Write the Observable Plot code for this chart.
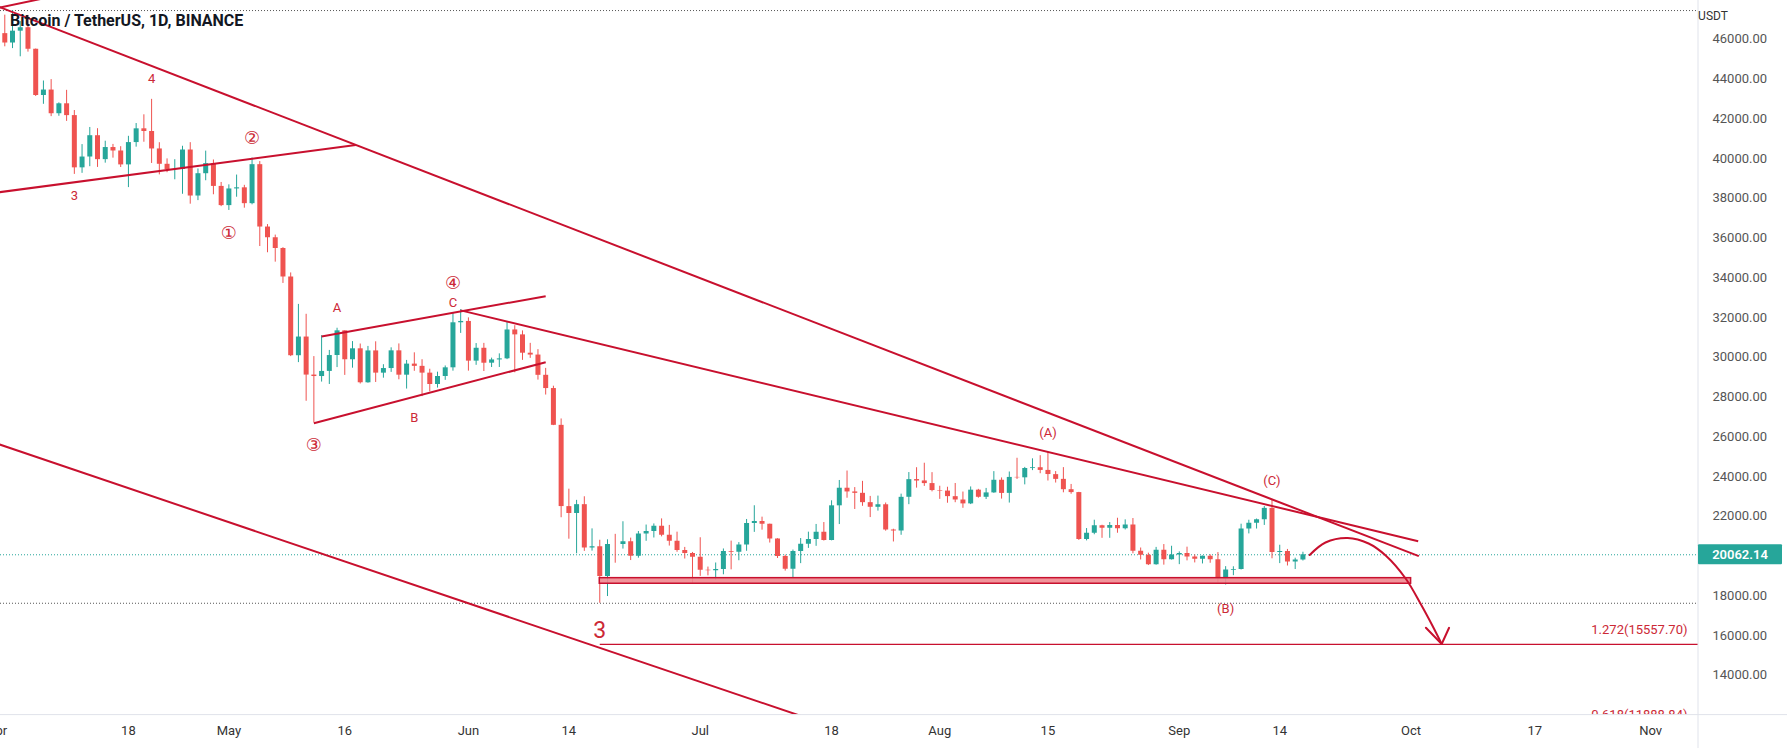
<!DOCTYPE html>
<html>
<head>
<meta charset="utf-8">
<script src="https://cdn.jsdelivr.net/npm/d3@7"></script>
<script src="https://cdn.jsdelivr.net/npm/@observablehq/plot@0.6"></script>
<style>
  html, body { margin: 0; padding: 0; background: #fff; }
  #wrap { position: relative; width: 1787px; height: 748px; overflow: hidden; }
  #title { position: absolute; left: 10px; top: 13px; font: 700 16px Roboto, "Open Sans", sans-serif; line-height: 1; color: #131722; pointer-events: none; white-space: nowrap; }
</style>
</head>
<body>
<div id="wrap"><div id="title">Bitcoin / TetherUS, 1D, BINANCE</div></div>
<script>
// ---------- daily candles, 2022-04-01 .. 2022-09-17 ----------
const firstDay = "2022-04-01";
const lastDay = "2022-09-17";
const open = [
  45510,46283,45811,46407,46580,45497,43170,43444,42253,42753,42159,39530,40075,41147,39943,40552,40378,39679,40802,41494,41359,40481,39709,39441,39450,40427,38112,39235,39742,38596,
  37630,38469,38525,37728,39690,36552,36013,35472,34038,30077,31017,29104,29030,29287,30087,31329,29874,30425,28715,30320,29200,29432,30323,29098,29655,29542,29201,28629,29031,29469,31734,
  31801,29805,30452,29701,29865,29920,31374,31126,30204,30110,29092,28425,26574,22485,22136,22583,20400,20468,18970,20575,20573,20719,19987,21111,21238,21492,21039,20742,20281,20123,
  19942,19279,19252,19316,20232,20191,20549,21637,21731,21593,20861,19970,19331,20225,20588,20830,21195,20785,22525,23410,23223,23154,22684,22451,22578,21310,21254,22954,23845,23777,23644,
  23296,23266,22985,22817,22622,23313,22954,23175,23811,23152,23955,23934,24401,24442,24306,24094,23856,23336,23191,20834,21141,21516,21400,21529,21368,21559,20240,20037,19555,20285,19813,
  20050,20127,19953,19832,19988,19812,18837,19289,19320,21361,21650,21826,22396,20173,20227,19701,19803
];
const high = [
  46720,47213,47444,46890,47200,45507,43900,43970,42800,43430,42414,40700,41561,41500,40870,40709,40595,41117,41760,42199,42976,40795,39980,39940,40616,40797,39474,40372,39925,38795,
  38675,39167,38650,40023,39845,36675,36146,35514,34243,32659,32162,30033,31083,30343,31460,31329,30788,30666,30545,30777,29625,30475,30670,29840,30223,29875,29397,29250,29562,32222,32399,
  31982,30689,30699,29956,30170,31765,31589,31326,30700,30383,29440,28544,26895,23362,22800,22980,21365,20792,20815,21090,21723,20900,21233,21558,21614,21868,21540,21200,20432,20179,
  20918,19443,19648,20354,20750,20675,21838,22528,21955,21603,20869,20048,20300,20879,21200,21588,21684,22777,23800,24276,23442,23756,22998,23014,22666,21347,23112,24199,24442,24668,24194,
  23510,23460,23648,23218,23475,23354,23400,24245,23928,24226,24918,24458,24890,25047,25212,24247,24446,23600,23203,21382,21800,21548,21684,21900,21819,21886,20402,20143,20433,20576,20490,
  20208,20445,20056,20000,20059,20173,19464,19457,21600,21800,21860,22488,22799,20541,20330,19890,20189
];
const low = [
  44200,45620,45530,45118,45353,43121,42727,42107,42125,41868,39200,39254,39588,39551,39766,40019,39546,38536,40571,40819,39751,39177,39285,38929,38200,37702,37881,38881,38175,37578,
  37386,38052,37500,37670,35571,35258,34785,33714,30033,29730,27785,26700,28751,28630,29480,29087,29450,28654,28693,28731,28947,29239,28866,28400,29294,28019,28261,28450,28838,29300,31200,
  29301,29594,29282,29483,29485,29880,29219,29844,29944,28850,28099,26560,21925,20846,20111,20233,20246,17622,17960,19637,20348,19771,19890,20740,20906,20964,20500,20188,19848,18626,
  18975,19001,18782,19055,19304,19762,20237,21189,21300,20652,19875,19240,18910,19616,20382,20486,20752,20763,21582,22906,22341,22500,21934,22258,21250,20706,21043,22582,23414,23502,23227,
  22850,22655,22681,22400,22587,22909,22841,23154,22864,22664,23853,23579,24296,24140,23773,23671,23180,23108,20783,20761,21069,20890,20890,21145,21310,20112,19800,19520,19537,19540,19797,
  19565,19755,19652,19600,19635,18650,18540,19010,19297,21111,21357,21538,19860,19618,19497,19320,19748
];
const close = [
  46283,45811,46407,46580,45497,43170,43444,42252,42753,42158,39530,40074,41147,39942,40552,40378,39678,40801,41493,41358,40480,39709,39441,39450,40427,38112,39235,39742,38596,37630,
  38468,38525,37728,39690,36552,36013,35472,34038,30077,31017,29103,29030,29287,30086,31329,29874,30425,28716,30319,29201,29432,30323,29098,29655,29542,29201,28629,29031,29468,31734,31801,
  29805,30452,29700,29865,29919,31373,31126,30204,30110,29091,28425,26575,22487,22136,22583,20401,20468,18970,20574,20573,20720,19987,21110,21238,21492,21039,20742,20281,20123,19943,
  19279,19252,19316,20232,20191,20549,21637,21731,21593,20861,19970,19331,20224,20588,20830,21196,20785,22525,23410,23223,23153,22684,22451,22579,21310,21254,22952,23842,23773,23643,23293,
  23269,22988,22818,22622,23312,22954,23175,23810,23149,23954,23934,24403,24441,24306,24099,23855,23336,23191,20834,21140,21516,21400,21529,21368,21559,20241,20037,19555,20285,19812,20050,
  20131,19953,19832,19986,19812,18838,19290,19320,21361,21649,21826,22396,20174,20227,19702,19803,20062.14
];

// ---------- view window & axes ----------
const xDomain = ["2022-04-01T10:40Z", "2022-11-07T04:40Z"];
const yDomain = [11995, 47950];
const xTickDates = ["2022-04-01","2022-04-18","2022-05-01","2022-05-16","2022-06-01","2022-06-14","2022-07-01","2022-07-18","2022-08-01","2022-08-15","2022-09-01","2022-09-14","2022-10-01","2022-10-17","2022-11-01"];
const xTickLabels = ["Apr","18","May","16","Jun","14","Jul","18","Aug","15","Sep","14","Oct","17","Nov"];
const yTicks = [14000,16000,18000,22000,24000,26000,28000,30000,32000,34000,36000,38000,40000,42000,44000,46000];
const currency = "USDT";
const lastPrice = 20062.14;
const rangeHighLow = [47444, 17622];

// ---------- drawings ----------
const lineStartDate  = ["2022-03-30","2022-03-30","2022-03-30","2022-03-30","2022-05-31","2022-05-13","2022-05-12"];
const lineStartPrice = [47397, 47967, 38186, 25916, 32360, 31045, 26684];
const lineEndDate    = ["2022-04-10","2022-10-02","2022-05-17T10:00Z","2022-07-20","2022-10-01T22:00Z","2022-06-11","2022-06-11"];
const lineEndPrice   = [48304, 19993, 40680, 11166, 20746, 33073, 29752];

const zoneStart = "2022-06-18", zoneEnd = "2022-10-01";
const zoneLow = 18604, zoneHigh = 18885;

const fibRatio = ["1.272", "0.618"];
const fibPrice = [15557.70, 11888.84];
const fibStart = "2022-06-18";

const arrowDate  = ["2022-09-17T21:00Z","2022-09-19T22:00Z","2022-09-22T19:00Z","2022-09-25T12:00Z","2022-09-27T17:00Z","2022-09-30T07:00Z","2022-10-02T05:00Z","2022-10-03T18:00Z","2022-10-04T23:00Z"];
const arrowPrice = [20050, 20679, 20906, 20629, 20025, 18868, 17610, 16503, 15572];
const headDate  = ["2022-10-02T22:00Z", "2022-10-05T22:00Z"];
const headPrice = [16388, 16388];

const smallText  = ["4", "3", "A", "C", "B"];
const smallDate  = ["2022-04-21", "2022-04-11", "2022-05-15", "2022-05-30", "2022-05-25"];
const smallPrice = [44010, 38139, 32469, 32741, 26934];
const circledText  = ["①", "②", "③", "④"];
const circledDate  = ["2022-05-01", "2022-05-04", "2022-05-12", "2022-05-30"];
const circledPrice = [36262, 41042, 25596, 33727];
const waveText  = ["(A)", "(B)", "(C)"];
const waveDate  = ["2022-08-15", "2022-09-07", "2022-09-13"];
const wavePrice = [26199, 17343, 23765];
const bigText = ["3"], bigDate = ["2022-06-18"], bigPrice = [16253];

// ---------- build ----------
const FONT = "Roboto, 'DejaVu Sans', 'Noto Sans CJK SC', sans-serif";
const RED = "#c8102e", LABEL = "#cc2936", UP = "#26a69a", DOWN = "#ef5350";
const D = s => new Date(s);
const dates = d3.utcDay.range(D(firstDay), d3.utcDay.offset(D(lastDay), 1));
const candles = dates.map((date, i) => ({date, open: open[i], high: high[i], low: low[i], close: close[i]}));
const col = d => d.close >= d.open ? UP : DOWN;
const lines = lineStartDate.map((s, i) => ({x1: D(s), y1: lineStartPrice[i], x2: D(lineEndDate[i]), y2: lineEndPrice[i]}));
const fibs = fibRatio.map((r, i) => ({x1: D(fibStart), x2: D(xDomain[1]), y: fibPrice[i], label: `${r}(${fibPrice[i].toFixed(2)})`}));
const arrow = arrowDate.map((s, i) => ({x: D(s), y: arrowPrice[i]}));
const tip = arrow[arrow.length - 1];
const head = headDate.map((s, i) => ({x1: tip.x, y1: tip.y, x2: D(s), y2: headPrice[i]}));
const lab = (t, d, p) => t.map((s, i) => ({text: s, x: D(d[i]), y: p[i]}));
const labelMap = new Map(xTickDates.map((d, i) => [+D(d), xTickLabels[i]]));

const chart = Plot.plot({
  width: 1787, height: 748,
  marginTop: 0, marginRight: 89, marginBottom: 33.4, marginLeft: 0,
  style: {fontFamily: FONT, fontSize: "13px", background: "#fff"},
  x: {type: "utc", domain: xDomain.map(D)},
  y: {domain: yDomain},
  color: {type: "identity"},
  marks: [
    Plot.ruleY(rangeHighLow, {stroke: "#555", strokeDasharray: "1,2", strokeWidth: 1}),
    Plot.ruleY([lastPrice], {stroke: UP, strokeDasharray: "1,2", strokeWidth: 1}),
    Plot.ruleX(candles, {x: "date", y1: "low", y2: "high", stroke: col, strokeWidth: 1, clip: true}),
    Plot.ruleX(candles, {x: "date", y1: "open", y2: "close", stroke: col, strokeWidth: 5, clip: true}),
    Plot.rect([{x1: D(zoneStart), x2: D(zoneEnd), y1: zoneLow, y2: zoneHigh}], {x1: "x1", x2: "x2", y1: "y1", y2: "y2", fill: "#f08890", fillOpacity: 0.9, stroke: RED, strokeWidth: 1.5}),
    Plot.link(lines, {x1: "x1", y1: "y1", x2: "x2", y2: "y2", stroke: RED, strokeWidth: 2, clip: true}),
    Plot.link(fibs, {x1: "x1", x2: "x2", y1: "y", y2: "y", stroke: RED, strokeWidth: 1.2, clip: true}),
    Plot.text(fibs.slice(0, 1), {x: "x2", y: "y", text: "label", textAnchor: "end", dx: -11, dy: -14, fill: LABEL, fontSize: 13, clip: true}),
    Plot.text(fibs.slice(1), {x: "x2", y: "y", text: "label", textAnchor: "end", dx: -11, dy: -2, fill: LABEL, fontSize: 13, clip: true}),
    Plot.line(arrow, {x: "x", y: "y", curve: "catmull-rom", stroke: RED, strokeWidth: 2}),
    Plot.link(head, {x1: "x1", y1: "y1", x2: "x2", y2: "y2", stroke: RED, strokeWidth: 2, strokeLinecap: "round"}),
    Plot.text(lab(smallText, smallDate, smallPrice), {x: "x", y: "y", text: "text", fill: LABEL, fontSize: 13}),
    Plot.text(lab(circledText, circledDate, circledPrice), {x: "x", y: "y", text: "text", fill: LABEL, fontSize: 18}),
    Plot.text(lab(waveText, waveDate, wavePrice), {x: "x", y: "y", text: "text", fill: LABEL, fontSize: 13}),
    Plot.text(lab(bigText, bigDate, bigPrice), {x: "x", y: "y", text: "text", fill: LABEL, fontSize: 23}),
    Plot.axisX({ticks: xTickDates.map(D), tickFormat: d => labelMap.get(+d), tickSize: 0, tickPadding: 11, fill: "#333", fontSize: 13, label: null}),
    Plot.axisY({anchor: "right", ticks: yTicks, tickFormat: d => d.toFixed(2), tickSize: 0, tickPadding: 14, fill: "#555", fontSize: 13, label: null})
  ]
});

// pane separators and price badge, positioned through the plot's scales
const sx = chart.scale("x"), sy = chart.scale("y");
const right = sx.range[1], bottom = sy.range[0];
const svg = d3.select(chart);
svg.append("line").attr("x1", right).attr("x2", right).attr("y1", 0).attr("y2", 748).attr("stroke", "#e0e3eb");
svg.append("line").attr("x1", 0).attr("x2", 1787).attr("y1", bottom).attr("y2", bottom).attr("stroke", "#e0e3eb");
svg.append("text").attr("x", right + 15).attr("y", 16).attr("dy", "0.35em").attr("fill", "#333").attr("font-size", 12).attr("font-family", FONT).text(currency);
const py = sy.apply(lastPrice);
svg.append("rect").attr("x", right).attr("y", py - 10).attr("width", 84).attr("height", 20).attr("rx", 1).attr("fill", UP);
svg.append("text").attr("x", right + 42).attr("y", py).attr("dy", "0.35em").attr("text-anchor", "middle").attr("fill", "#fff").attr("font-size", 13).attr("font-weight", 600).attr("font-family", FONT).text(lastPrice.toFixed(2));

const wrap = document.getElementById("wrap");
wrap.insertBefore(chart, wrap.firstChild);
</script>
</body>
</html>
